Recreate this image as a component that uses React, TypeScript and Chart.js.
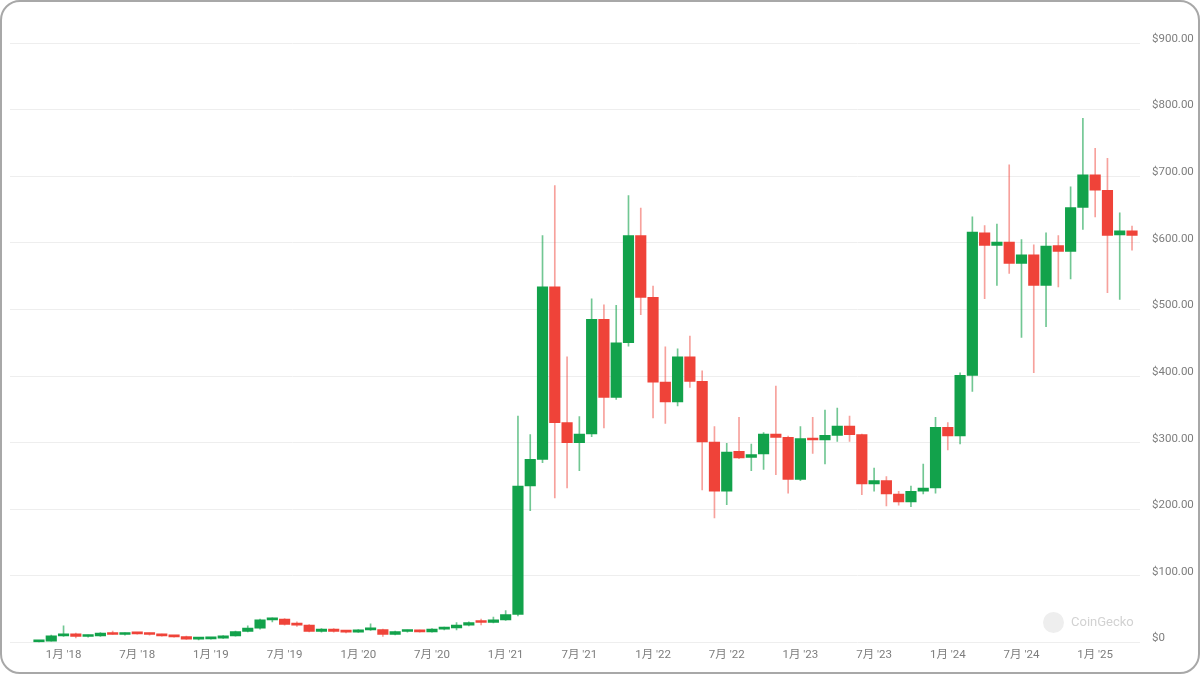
import React, { useEffect, useRef } from 'react';
import { Chart, registerables } from 'chart.js';

Chart.register(...registerables);

// Monthly candles, Nov 2017 .. Apr 2025
const months = [
  '2017-11', '2017-12',
  '2018-01', '2018-02', '2018-03', '2018-04', '2018-05', '2018-06', '2018-07', '2018-08', '2018-09', '2018-10', '2018-11', '2018-12',
  '2019-01', '2019-02', '2019-03', '2019-04', '2019-05', '2019-06', '2019-07', '2019-08', '2019-09', '2019-10', '2019-11', '2019-12',
  '2020-01', '2020-02', '2020-03', '2020-04', '2020-05', '2020-06', '2020-07', '2020-08', '2020-09', '2020-10', '2020-11', '2020-12',
  '2021-01', '2021-02', '2021-03', '2021-04', '2021-05', '2021-06', '2021-07', '2021-08', '2021-09', '2021-10', '2021-11', '2021-12',
  '2022-01', '2022-02', '2022-03', '2022-04', '2022-05', '2022-06', '2022-07', '2022-08', '2022-09', '2022-10', '2022-11', '2022-12',
  '2023-01', '2023-02', '2023-03', '2023-04', '2023-05', '2023-06', '2023-07', '2023-08', '2023-09', '2023-10', '2023-11', '2023-12',
  '2024-01', '2024-02', '2024-03', '2024-04', '2024-05', '2024-06', '2024-07', '2024-08', '2024-09', '2024-10', '2024-11', '2024-12',
  '2025-01', '2025-02', '2025-03', '2025-04',
];

const openP = [
  1, 2,
  10, 13, 9, 10, 14, 12, 14, 13, 12, 10, 9, 5,
  5.5, 6.5, 10, 16.5, 21.5, 34, 35, 27, 26, 16.5, 20, 16.5,
  15.5, 19, 19.5, 12, 16.5, 17.5, 16, 20, 22, 26, 31, 30,
  34, 42, 235, 275, 534, 330, 300, 313, 485, 368, 450, 611,
  518, 391, 361, 429, 392, 301, 227, 287, 278, 283, 313, 308,
  245, 306, 304, 311, 325, 312, 238, 243, 223, 211, 227, 232,
  323, 310, 401, 615, 596, 601, 569, 582, 536, 596, 587, 653,
  702, 679, 612, 618,
];

const highP = [
  2.5, 11,
  25, 14, 11, 15, 17, 14.5, 15, 14, 12.5, 10.5, 9.5, 6,
  7, 10.5, 17, 25, 35, 37, 36, 31, 27, 21, 21, 17.5,
  19.5, 28, 20, 17, 18.5, 18.5, 21, 23, 30, 31, 35, 38,
  48, 340, 312, 611, 686, 429, 339, 516, 507, 506, 671, 652,
  535, 444, 441, 460, 408, 324, 299, 338, 298, 315, 385, 310,
  324, 338, 349, 352, 340, 313, 262, 249, 227, 235, 268, 338,
  330, 405, 639, 626, 628, 717, 605, 597, 615, 611, 684, 787,
  742, 727, 645, 625,
];

const lowP = [
  0.5, 2,
  9, 7, 8, 9, 12, 11, 12.5, 11, 9.5, 8, 4.5, 4,
  5, 6, 9.5, 16, 20, 31, 26, 24, 16, 15.5, 15.5, 14.5,
  15, 18, 9, 11.5, 15.5, 15.5, 15.5, 19, 19, 25, 26.5, 29.5,
  33, 40, 198, 270, 217, 232, 258, 309, 322, 365, 445, 492,
  337, 329, 355, 383, 229, 187, 207, 276, 258, 260, 252, 224,
  243, 284, 268, 302, 302, 222, 227, 205, 206, 204, 223, 224,
  289, 298, 377, 516, 536, 554, 458, 405, 474, 534, 546, 620,
  639, 525, 515, 589,
];

const closeP = [
  2, 10,
  13, 9, 10, 14, 12, 14, 13, 12, 10, 8.5, 5, 5.5,
  6.5, 10, 16.5, 21.5, 34, 35, 27, 26, 16.5, 20, 16.5, 15.5,
  19, 19.5, 12, 16.5, 17.5, 16, 20, 22, 26, 30, 30, 34,
  42, 235, 275, 534, 330, 300, 313, 485, 368, 450, 611, 518,
  391, 361, 429, 392, 301, 227, 286, 277, 282, 313, 308, 245,
  306, 304, 311, 325, 312, 238, 243, 223, 211, 227, 232, 323,
  310, 401, 616, 596, 601, 569, 582, 536, 595, 587, 653, 702,
  679, 611, 618, 611,
];

const xTickIdx = [2, 8, 14, 20, 26, 32, 38, 44, 50, 56, 62, 68, 74, 80, 86];
const xTickLabels = [
  "1月 '18", "7月 '18", "1月 '19", "7月 '19", "1月 '20", "7月 '20", "1月 '21", "7月 '21",
  "1月 '22", "7月 '22", "1月 '23", "7月 '23", "1月 '24", "7月 '24", "1月 '25",
];

const yMin = 0;
const yMax = 900;
const yStep = 100;

const UP = '#12a24b';
const DOWN = '#ef4339';
const UP_WICK = 'rgba(18,162,75,0.6)';
const DOWN_WICK = 'rgba(239,67,57,0.5)';
const FONT_FAMILY = "Roboto, 'Noto Sans CJK SC', sans-serif";

export default function App() {
  const ref = useRef<HTMLCanvasElement>(null);

  useEffect(() => {
    if (!ref.current) return;
    const isUp = months.map((_, i) => closeP[i] >= openP[i]);
    const bodies = months.map((_, i) => ({ x: i, y: [openP[i], closeP[i]] }));
    const wicks = months.map((_, i) => ({ x: i, y: [lowP[i], highP[i]] }));

    const chart = new Chart(ref.current, {
      type: 'bar',
      data: {
        datasets: [
          {
            label: 'wick',
            data: wicks as any,
            backgroundColor: isUp.map((u) => (u ? UP_WICK : DOWN_WICK)),
            borderWidth: 0,
            barThickness: 1,
            grouped: false,
            order: 2,
          } as any,
          {
            label: 'body',
            data: bodies as any,
            backgroundColor: isUp.map((u) => (u ? UP : DOWN)),
            borderWidth: 0,
            barThickness: 10.5,
            minBarLength: 2,
            grouped: false,
            order: 1,
          } as any,
        ],
      },
      options: {
        animation: false,
        responsive: false,
        maintainAspectRatio: false,
        layout: { padding: { left: 10, top: 43, right: 0, bottom: 0 } },
        plugins: { legend: { display: false }, tooltip: { enabled: false } },
        scales: {
          x: {
            type: 'linear',
            offset: false,
            min: -2.36,
            max: 89.65,
            grid: { display: false, drawTicks: false },
            border: { display: false },
            afterBuildTicks: (s: any) => {
              s.ticks = xTickIdx.map((v) => ({ value: v }));
            },
            afterFit: (s: any) => {
              s.height = 31.5;
            },
            ticks: {
              autoSkip: false,
              maxRotation: 0,
              padding: 6,
              color: '#7d7d7d',
              font: { family: FONT_FAMILY, size: 11.5 },
              callback: (v: any) => {
                const k = xTickIdx.indexOf(Number(v));
                return k >= 0 ? xTickLabels[k] : '';
              },
            },
          } as any,
          y: {
            position: 'right',
            min: yMin,
            max: yMax,
            afterFit: (s: any) => {
              s.width = 60;
            },
            grid: { color: '#eeeeee', drawTicks: false, lineWidth: 1 },
            border: { display: false },
            ticks: {
              stepSize: yStep,
              padding: 12,
              labelOffset: -4,
              color: '#7d7d7d',
              font: { family: FONT_FAMILY, size: 11.5 },
              callback: (v: any) => (Number(v) === 0 ? '$0' : '$' + Number(v).toFixed(2)),
            },
          } as any,
        },
      },
    });
    return () => chart.destroy();
  }, []);

  return (
    <div style={{ position: 'absolute', left: 0, top: 0, width: 1200, height: 674, background: '#fff', overflow: 'hidden' }}>
      <canvas ref={ref} width={1200} height={674} style={{ position: 'absolute', left: 0, top: 0, width: 1200, height: 674 }} />
      <div
        style={{
          position: 'absolute', left: 1043, top: 612, width: 21, height: 21, borderRadius: '50%',
          background: '#eeeeee',
        }}
      />
      <div
        style={{
          position: 'absolute', left: 1071, top: 613, height: 18, lineHeight: '18px',
          fontFamily: FONT_FAMILY, fontSize: 13, color: '#d2d2d2',
        }}
      >
        CoinGecko
      </div>
      <div
        style={{
          position: 'absolute', left: 0, top: 0, width: 1200, height: 674, boxSizing: 'border-box',
          border: '2px solid #a8a8a8', borderRadius: 20, pointerEvents: 'none',
        }}
      />
    </div>
  );
}
